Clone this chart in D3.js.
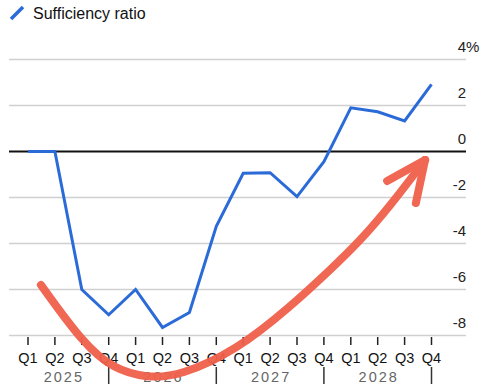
<!DOCTYPE html>
<html>
<head>
<meta charset="utf-8">
<script src="https://cdn.jsdelivr.net/npm/d3@7"></script>
<style>
  html, body { margin: 0; padding: 0; background: #fff; }
  svg { display: block; font-family: "Liberation Sans", Arial, Helvetica, sans-serif; }
</style>
</head>
<body>
<svg id="chart" width="480" height="386"></svg>
<script>
// ---- data ----
const quarters = ["Q1","Q2","Q3","Q4","Q1","Q2","Q3","Q4","Q1","Q2","Q3","Q4","Q1","Q2","Q3","Q4"];
const years = ["2025","2026","2027","2028"];
const sufficiency = [0, 0, -6.0, -7.1, -6.0, -7.65, -7.0, -3.25, -0.95, -0.92, -1.96, -0.44, 1.9, 1.73, 1.33, 2.92];
const yTicks = [4, 2, 0, -2, -4, -6, -8];
const seriesName = "Sufficiency ratio";
// hand-drawn annotation arrow, in (quarter index, value) space
const arrowPath = [[0.48,-5.8],[2.04,-8.33],[3.16,-9.45],[4.42,-9.85],[5.65,-9.76],[7.77,-8.63],[9.74,-6.76],[11.23,-5.15],[12.34,-3.89],[13.46,-2.37],[14.76,-0.37]];
const arrowWings = [[[13.35,-1.28],[14.76,-0.37]],[[14.42,-2.24],[14.76,-0.37]]];

const svg = d3.select("#chart");
const x = d3.scaleLinear().domain([0, quarters.length - 1]).range([28, 431.5]);
const y = d3.scaleLinear().domain([-8, 4]).range([335.5, 59.5]);
const gridLeft = 9, gridRight = 466;

// gridlines
svg.append("g").selectAll("line").data(yTicks.filter(d => d !== 0)).join("line")
  .attr("x1", gridLeft).attr("x2", gridRight)
  .attr("y1", d => y(d)).attr("y2", d => y(d))
  .attr("stroke", "#d0d0d0").attr("stroke-width", 1.5);

// y labels
const yl = svg.append("g").attr("font-size", 15).attr("fill", "#222");
yl.selectAll("text").data(yTicks).join("text")
  .attr("x", gridRight).attr("y", d => y(d) - 8)
  .attr("text-anchor", "end")
  .text(d => d);
yl.append("text").attr("x", gridRight).attr("y", y(yTicks[0]) - 8).text("%");

// zero line
svg.append("line").attr("x1", gridLeft).attr("x2", gridRight)
  .attr("y1", y(0)).attr("y2", y(0)).attr("stroke", "#111").attr("stroke-width", 2);

// x ticks
svg.append("g").selectAll("line").data(quarters).join("line")
  .attr("x1", (d, i) => x(i)).attr("x2", (d, i) => x(i))
  .attr("y1", 337).attr("y2", 345)
  .attr("stroke", "#222").attr("stroke-width", 1.5);

svg.append("g").attr("font-size", 14.5).attr("fill", "#111").selectAll("text").data(quarters).join("text")
  .attr("x", (d, i) => x(i)).attr("y", 363).attr("text-anchor", "middle").text(d => d);

// year separators and labels
svg.append("g").selectAll("line").data(years).join("line")
  .attr("x1", (d, i) => x(i * 4 + 3)).attr("x2", (d, i) => x(i * 4 + 3))
  .attr("y1", 367).attr("y2", 384)
  .attr("stroke", "#333").attr("stroke-width", 1.5);
svg.append("g").attr("font-size", 14.5).attr("fill", "#666").attr("letter-spacing", 2)
  .selectAll("text").data(years).join("text")
  .attr("x", (d, i) => i === 0 ? (x(3) + 17) / 2 + 1 : (x(i * 4 - 1) + x(i * 4 + 3)) / 2 + 1)
  .attr("y", 382).attr("text-anchor", "middle").text(d => d);

// series line
const line = d3.line().x((d, i) => x(i)).y(d => y(d));
svg.append("path").datum(sufficiency).attr("d", line)
  .attr("fill", "none").attr("stroke", "#2b6bd8").attr("stroke-width", 3)
  .attr("stroke-linejoin", "miter");

// annotation arrow
const arrowLine = d3.line().x(d => x(d[0])).y(d => y(d[1])).curve(d3.curveBasis);
const ag = svg.append("g").attr("fill", "none").attr("stroke", "#f0604b")
  .attr("stroke-width", 8).attr("stroke-linecap", "round").attr("stroke-linejoin", "round").attr("opacity", 0.95);
ag.append("path").datum(arrowPath).attr("d", arrowLine);
arrowWings.forEach(w => ag.append("path").datum(w).attr("d", d3.line().x(d => x(d[0])).y(d => y(d[1]))));

// legend
svg.append("line").attr("x1", 11).attr("y1", 19).attr("x2", 23).attr("y2", 7)
  .attr("stroke", "#2b6bd8").attr("stroke-width", 3.5);
svg.append("text").attr("x", 33).attr("y", 19).attr("font-size", 16).attr("fill", "#111").text(seriesName);
</script>
</body>
</html>
